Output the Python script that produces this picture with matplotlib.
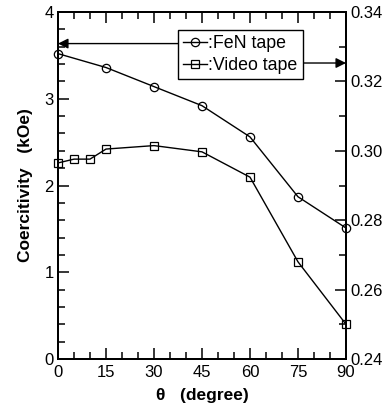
import matplotlib
matplotlib.use('Agg')
import matplotlib.pyplot as plt
from matplotlib.ticker import MultipleLocator

plt.rcParams['font.family'] = ['Liberation Sans', 'DejaVu Sans']

# 数据
theta_fen = [0, 15, 30, 45, 60, 75, 90]
hc_fen = [3.52, 3.36, 3.14, 2.92, 2.56, 1.87, 1.51]
theta_video = [0, 5, 10, 15, 30, 45, 60, 75, 90]
hc_video = [0.2965, 0.2976, 0.2976, 0.3005, 0.3015, 0.2997, 0.2924, 0.268, 0.250]
legend_labels = [':FeN tape', ':Video tape']
right_ticks = [0.24, 0.26, 0.28, 0.30, 0.32, 0.34]

fig = plt.figure(figsize=(3.82, 4.16), dpi=100)
ax = fig.add_axes([58 / 382, 1 - 359 / 416, 288 / 382, 347 / 416])
ax2 = ax.twinx()

l1, = ax.plot(theta_fen, hc_fen, 'k-', marker='o', mfc='none', mec='k',
              ms=6, lw=1, mew=0.9, clip_on=False)
l2, = ax2.plot(theta_video, hc_video, 'k-', marker='s', mfc='none', mec='k',
               ms=6, lw=1, mew=0.9, clip_on=False)

ax.set_xlim(0, 90)
ax.set_ylim(0, 4)
ax2.set_ylim(0.24, 0.34)
ax.xaxis.set_major_locator(MultipleLocator(15))
ax.xaxis.set_minor_locator(MultipleLocator(5))
ax.yaxis.set_major_locator(MultipleLocator(1))
ax.yaxis.set_minor_locator(MultipleLocator(0.2))
ax2.set_yticks(right_ticks)
ax2.set_yticklabels(['%.2f' % v for v in right_ticks])
ax2.yaxis.set_minor_locator(MultipleLocator(0.01))

ax.tick_params(axis='x', which='both', direction='in', top=True, bottom=True,
               labelsize=12, pad=4)
ax.tick_params(axis='y', which='both', direction='in', left=True, right=False,
               labelsize=12, pad=3)
ax2.tick_params(axis='y', which='both', direction='in', right=True, left=False,
                labelsize=12, pad=3)
for a in (ax, ax2):
    a.tick_params(which='major', length=8, width=1.1, color='k')
    a.tick_params(which='minor', length=5, width=1.1, color='k')
    for s in a.spines.values():
        s.set_linewidth(1.4)

ax.set_ylabel('Coercitivity   (kOe)', fontsize=12.5, fontweight='bold', labelpad=8)
ax.set_xlabel('θ   (degree)', fontsize=12.5, fontweight='bold', labelpad=6)

leg = ax2.legend([l1, l2], legend_labels, loc='upper left',
                 bbox_to_anchor=(0.417, 0.948), fontsize=12.8, frameon=True,
                 fancybox=False, handlelength=1.3, handletextpad=0.1,
                 borderpad=0.3, labelspacing=0.25, borderaxespad=0,
                 framealpha=1)
leg.get_frame().set_edgecolor('k')
leg.get_frame().set_linewidth(1)

# 箭头从图例边框指向对应坐标轴
fig.canvas.draw()
bb = leg.get_window_extent().transformed(ax.transAxes.inverted())
ax.annotate('', xy=(0.0, 0.909), xytext=(bb.x0, 0.909), xycoords='axes fraction',
            arrowprops=dict(arrowstyle='-|>', color='k', lw=1, mutation_scale=15,
                            shrinkA=0, shrinkB=0))
ax.annotate('', xy=(1.0, 0.853), xytext=(bb.x1, 0.853), xycoords='axes fraction',
            arrowprops=dict(arrowstyle='-|>', color='k', lw=1, mutation_scale=15,
                            shrinkA=0, shrinkB=0))

fig.savefig('out.png', dpi=100)
